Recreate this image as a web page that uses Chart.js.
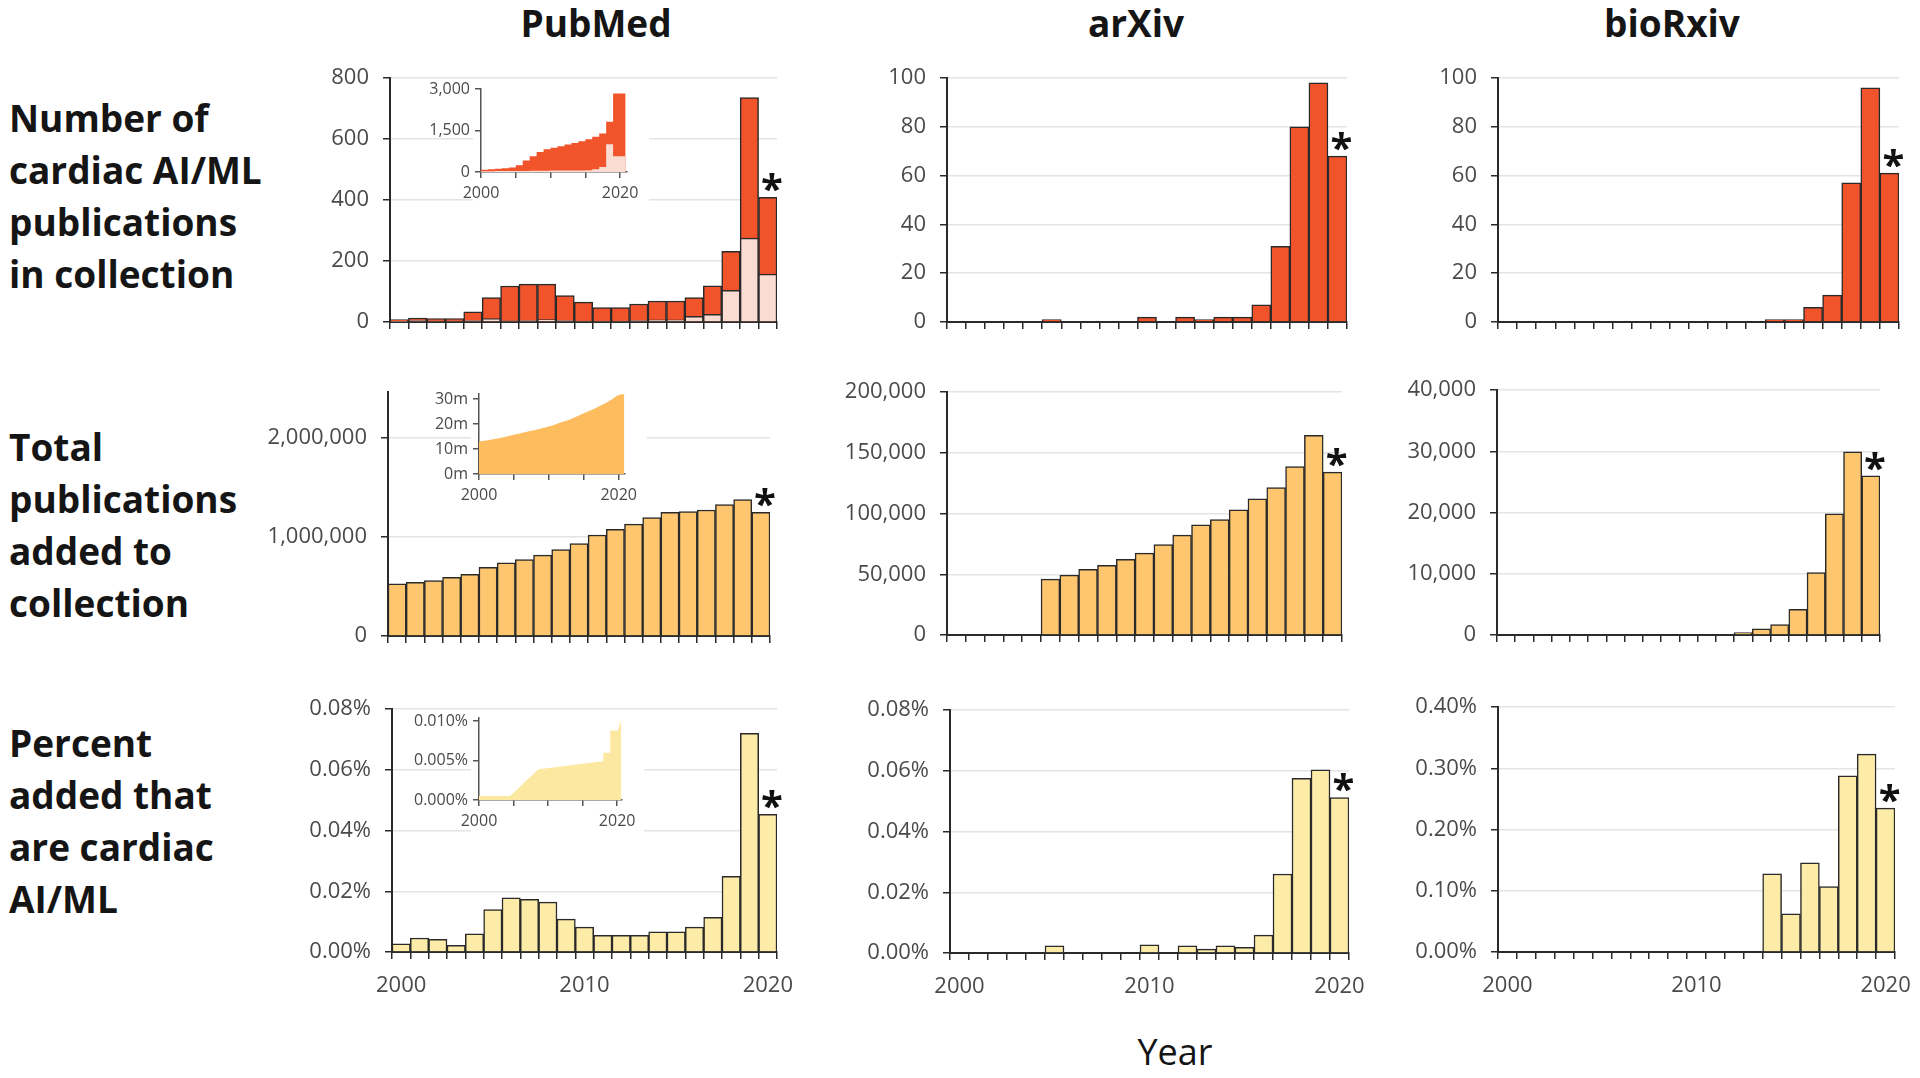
<!DOCTYPE html>
<html>
<head>
<meta charset="utf-8">
<script src="https://cdn.jsdelivr.net/npm/chart.js@4.4.0/dist/chart.umd.min.js"></script>
<style>
  html, body { margin: 0; padding: 0; background: #fff; }
  #wrap { position: relative; width: 1920px; height: 1078px; overflow: hidden;
          font-family: "Open Sans", sans-serif; color: #151515; }
  canvas { position: absolute; }
  canvas.inset { z-index: 2; }
  .col { position: absolute; font-weight: 700; font-size: 37px; transform: translate(-50%, -50%); white-space: nowrap; }
  .rowlab { position: absolute; left: 9px; font-weight: 700; font-size: 37px; line-height: 52px; white-space: nowrap; }
  #year { position: absolute; font-size: 36px; transform: translate(-50%, -50%); }
</style>
</head>
<body>
<div id="wrap">
  <div class="col" style="left:596px;top:22px">PubMed</div>
  <div class="col" style="left:1136px;top:22px">arXiv</div>
  <div class="col" style="left:1672px;top:22px">bioRxiv</div>

  <div class="rowlab" style="top:92px">Number of<br>cardiac AI/ML<br>publications<br>in collection</div>
  <div class="rowlab" style="top:421px">Total<br>publications<br>added to<br>collection</div>
  <div class="rowlab" style="top:717px">Percent<br>added that<br>are cardiac<br>AI/ML</div>

  <div id="year" style="left:1175px;top:1051px">Year</div>

  <canvas id="pm1"></canvas><canvas id="ax1"></canvas><canvas id="bx1"></canvas>
  <canvas id="pm2"></canvas><canvas id="ax2"></canvas><canvas id="bx2"></canvas>
  <canvas id="pm3"></canvas><canvas id="ax3"></canvas><canvas id="bx3"></canvas>
  <canvas id="in1" class="inset"></canvas>
  <canvas id="in2" class="inset"></canvas>
  <canvas id="in3" class="inset"></canvas>
</div>

<script>
"use strict";

// ---- data ----
const YEARS = ["2000","2001","2002","2003","2004","2005","2006","2007","2008","2009","2010",
               "2011","2012","2013","2014","2015","2016","2017","2018","2019","2020"];

// row 1 : cardiac AI/ML publications
const pubmedCardiac    = [8, 13, 11, 11, 33, 80, 118, 124, 124, 87, 65, 47, 47, 59, 69, 69, 80, 119, 232, 736, 409];
const pubmedCardiacSub = [2, 5, 3, 3, 5, 11, 4, 5, 8, 5, 3, 3, 3, 5, 7, 7, 19, 25, 104, 275, 157];
const arxivCardiac     = [null, null, null, null, null, 1, 0, 0, 0, 0, 2, 0, 2, 1, 2, 2, 7, 31, 80, 98, 68];
const biorxivCardiac   = [null, null, null, null, null, null, null, null, null, null, null, null, null, null,
                          1, 1, 6, 11, 57, 96, 61];

// row 2 : total publications added
const pubmedTotal  = [527000, 543000, 560000, 593000, 623000, 693000, 740000, 773000, 817000, 873000, 933000,
                      1020000, 1077000, 1130000, 1197000, 1250000, 1257000, 1273000, 1327000, 1377000, 1250000];
const arxivTotal   = [null, null, null, null, null, 46000, 49300, 54000, 57300, 62200, 67400, 74500, 82200,
                      90700, 95000, 103000, 112000, 121400, 138600, 164400, 134000];
const biorxivTotal = [null, null, null, null, null, null, null, null, null, null, null, null, null,
                      380, 1000, 1700, 4200, 10200, 19800, 29900, 26000];

// row 3 : percent cardiac AI/ML
const pubmedPct  = [0.0027, 0.0046, 0.0042, 0.0022, 0.0060, 0.0140, 0.0178, 0.0173, 0.0164, 0.0108, 0.0082,
                    0.0055, 0.0055, 0.0055, 0.0066, 0.0066, 0.0082, 0.0114, 0.0249, 0.0720, 0.0453];
const arxivPct   = [null, null, null, null, null, 0.0024, 0, 0, 0, 0, 0.0027, 0, 0.0024, 0.0013, 0.0024,
                    0.0019, 0.0059, 0.0260, 0.0575, 0.0603, 0.0512];
const biorxivPct = [null, null, null, null, null, null, null, null, null, null, null, null, null, null,
                    0.1275, 0.0624, 0.1455, 0.1070, 0.2877, 0.3230, 0.2350];

// insets (PubMed, whole collection)
const inset1X      = [2000, 2001, 2002, 2003, 2004, 2005, 2006, 2007, 2008, 2009, 2010, 2011, 2012, 2013,
                      2014, 2015, 2016, 2017, 2018, 2019, 2020, 2020.8];
const inset1Total  = [60, 80, 100, 120, 140, 160, 240, 420, 570, 725, 820, 880, 930, 990, 1050, 1110,
                      1185, 1270, 1390, 1815, 2840, 2840];
const inset1Sub    = [30, 30, 30, 35, 35, 40, 40, 40, 45, 45, 45, 50, 50, 50, 50, 55, 60, 100, 180, 1000, 570, 570];
const inset2X      = [2000, 2001, 2002, 2003, 2004, 2005, 2006, 2007, 2008, 2009, 2010, 2011, 2012, 2013,
                      2014, 2015, 2016, 2017, 2018, 2019, 2020, 2020.8];
const inset2Total  = [13.0, 13.4, 13.9, 14.4, 15.0, 15.7, 16.3, 17.0, 17.6, 18.3, 19.0, 19.9, 20.9, 21.8,
                      23.0, 24.3, 25.5, 26.8, 28.2, 29.8, 31.6, 31.9];
const inset3X      = [2000, 2004.5, 2008.6, 2018.0, 2018.0, 2019.0, 2019.0, 2020.1, 2020.6];
const inset3Pct    = [0.0005, 0.0005, 0.0039, 0.0049, 0.0060, 0.0060, 0.0088, 0.0088, 0.0102];

// tick values
const ticksPm1 = [0, 200, 400, 600, 800];
const ticksX1  = [0, 20, 40, 60, 80, 100];
const ticksPm2 = [0, 1000000, 2000000];
const ticksAx2 = [0, 50000, 100000, 150000, 200000];
const ticksBx2 = [0, 10000, 20000, 30000, 40000];
const ticksPct = [0, 0.02, 0.04, 0.06, 0.08];
const ticksBx3 = [0, 0.1, 0.2, 0.3, 0.4];
const insetXTicks = [2000, 2005, 2010, 2015, 2020];
const ticksIn1 = [0, 1500, 3000];
const ticksIn2 = [0, 10, 20, 30];
const ticksIn3 = [0, 0.005, 0.01];

// ---- styling ----
const RED    = "#F1532A";
const PINK   = "#FADCD3";
const ORANGE = "#FEC66F";
const ORANGE_IN = "#FDBD5F";
const YELLOW = "#FDEBA8";
const YELLOW_IN = "#FDE8A2";
const INK  = "#2a2a2a";
const GRID = "#e4e4e4";
const TXT  = "#4a4a4a";

Chart.defaults.font.family = "'Open Sans', sans-serif";

// star marking the partial 2020 year
const starPlugin = {
  id: "star",
  afterDatasetsDraw(chart, args, opts) {
    if (!opts || !opts.show) return;
    const meta = chart.getDatasetMeta(0);
    const bar = meta.data[meta.data.length - 1];
    const ctx = chart.ctx;
    ctx.save();
    ctx.font = "bold 40px 'Open Sans'";
    ctx.fillStyle = "#111";
    ctx.textAlign = "center";
    ctx.textBaseline = "alphabetic";
    ctx.fillText("*", bar.x + 4, bar.y - 17 + 23);
    ctx.restore();
  }
};

// white box behind the insets
const insetBg = {
  id: "insetBg",
  beforeDraw(chart, args, opts) {
    if (!opts || !opts.show) return;
    const a = chart.chartArea, ctx = chart.ctx;
    ctx.save();
    ctx.fillStyle = "#fff";
    ctx.fillRect(a.left - 8, a.top - 4, chart.width - (a.left - 8), chart.height - (a.top - 4));
    ctx.restore();
  }
};
Chart.register(starPlugin, insetBg);

function place(id, area, yW, xH, padT, padR) {
  const cv = document.getElementById(id);
  const left = area[0] - yW, top = area[1] - padT;
  const w = area[2] + padR - left, h = area[3] + xH - top;
  cv.width = w; cv.height = h;
  cv.style.left = left + "px"; cv.style.top = top + "px";
  cv.style.width = w + "px"; cv.style.height = h + "px";
  return cv;
}

function barPanel(id, area, datasets, yMax, yTicks, fmt, showYears) {
  const YW = 130, XH = 50, PT = 20, PR = 40;
  const cv = place(id, area, YW, XH, PT, PR);
  return new Chart(cv, {
    type: "bar",
    data: { labels: YEARS, datasets },
    options: {
      responsive: false, animation: false, devicePixelRatio: 1,
      layout: { padding: { top: PT, right: PR, left: 0, bottom: 0 } },
      plugins: { legend: { display: false }, tooltip: { enabled: false }, star: { show: true } },
      datasets: { bar: { barPercentage: 1, categoryPercentage: 1, borderWidth: 1.5,
                         borderColor: INK, grouped: false } },
      scales: {
        x: {
          grid: { display: true, drawOnChartArea: false, offset: true, tickLength: 7,
                  tickColor: INK, lineWidth: 1.5 },
          border: { display: true, color: INK, width: 2 },
          ticks: {
            display: showYears, autoSkip: false, minRotation: 0, maxRotation: 0, padding: 14,
            color: TXT, font: { size: 22 },
            callback(v) {
              const l = this.getLabelForValue(v);
              return (l === "2000" || l === "2010" || l === "2020") ? l : "";
            }
          },
          afterFit(s) { s.height = XH; s.paddingLeft = 0; s.paddingRight = 0; }
        },
        y: {
          min: 0, max: yMax,
          afterBuildTicks(s) { s.ticks = yTicks.map(v => ({ value: v })); },
          grid: { color: GRID, lineWidth: 1.5, tickLength: 7, tickColor: INK },
          border: { display: true, color: INK, width: 2 },
          ticks: { padding: 14, color: TXT, font: { size: 22 }, callback: fmt },
          afterFit(s) { s.width = YW; s.paddingTop = 0; s.paddingBottom = 0; }
        }
      }
    }
  });
}

function insetPanel(id, area, yW, datasets, xMax, yMax, yTicks, fmt) {
  const XH = 36, PT = 10, PR = 22;
  const cv = place(id, area, yW, XH, PT, PR);
  return new Chart(cv, {
    type: "line",
    data: { datasets },
    options: {
      responsive: false, animation: false, devicePixelRatio: 1,
      layout: { padding: { top: PT, right: PR, left: 0, bottom: 0 } },
      plugins: { legend: { display: false }, tooltip: { enabled: false }, insetBg: { show: true } },
      elements: { point: { radius: 0 }, line: { borderWidth: 0 } },
      scales: {
        x: {
          type: "linear", min: 2000, max: xMax,
          afterBuildTicks(s) { s.ticks = insetXTicks.map(v => ({ value: v })); },
          grid: { drawOnChartArea: false, tickLength: 6, tickColor: "#555", lineWidth: 1.5 },
          border: { display: true, color: "#555", width: 1.5 },
          ticks: { padding: 6, color: TXT, font: { size: 16 }, autoSkip: false,
                   minRotation: 0, maxRotation: 0,
                   callback: v => (v === 2000 || v === 2020) ? String(v) : "" },
          afterFit(s) { s.height = XH; s.paddingLeft = 0; s.paddingRight = 0; }
        },
        y: {
          min: 0, max: yMax,
          afterBuildTicks(s) { s.ticks = yTicks.map(v => ({ value: v })); },
          grid: { drawOnChartArea: false, tickLength: 6, tickColor: "#555", lineWidth: 1.5 },
          border: { display: true, color: "#555", width: 1.5 },
          ticks: { padding: 5, color: TXT, font: { size: 16 }, callback: fmt },
          afterFit(s) { s.width = yW; s.paddingTop = 0; s.paddingBottom = 0; }
        }
      }
    }
  });
}

const pts = (xs, ys) => xs.map((x, i) => ({ x, y: ys[i] }));
const fmtInt   = v => String(v);
const fmtComma = v => v.toLocaleString("en-US");
const fmtPct2  = v => v.toFixed(2) + "%";

// ---- row 1 ----
barPanel("pm1", [390, 78, 777, 322], [
  { data: pubmedCardiac, backgroundColor: RED, order: 1 },
  { data: pubmedCardiacSub, backgroundColor: PINK, order: 0 }
], 800, ticksPm1, fmtInt, false);
barPanel("ax1", [947, 78, 1347, 322], [{ data: arxivCardiac, backgroundColor: RED }],
  100, ticksX1, fmtInt, false);
barPanel("bx1", [1498, 78, 1899, 322], [{ data: biorxivCardiac, backgroundColor: RED }],
  100, ticksX1, fmtInt, false);

// ---- row 2 ----
barPanel("pm2", [388, 392, 770, 636], [{ data: pubmedTotal, backgroundColor: ORANGE }],
  2465000, ticksPm2, fmtComma, false);
barPanel("ax2", [947, 392, 1342, 635], [{ data: arxivTotal, backgroundColor: ORANGE }],
  200000, ticksAx2, fmtComma, false);
barPanel("bx2", [1497, 390, 1880, 635], [{ data: biorxivTotal, backgroundColor: ORANGE }],
  40000, ticksBx2, fmtComma, false);

// ---- row 3 ----
barPanel("pm3", [392, 709, 777, 952], [{ data: pubmedPct, backgroundColor: YELLOW }],
  0.08, ticksPct, fmtPct2, true);
barPanel("ax3", [950, 710, 1349, 953], [{ data: arxivPct, backgroundColor: YELLOW }],
  0.08, ticksPct, fmtPct2, true);
barPanel("bx3", [1498, 707, 1895, 952], [{ data: biorxivPct, backgroundColor: YELLOW }],
  0.4, ticksBx3, fmtPct2, true);

// ---- insets ----
insetPanel("in1", [481, 89, 627, 172], 60, [
  { data: pts(inset1X, inset1Total), fill: "origin", backgroundColor: RED, borderColor: RED,
    stepped: "after", order: 1 },
  { data: pts(inset1X, inset1Sub), fill: "origin", backgroundColor: PINK, borderColor: PINK,
    stepped: "after", order: 0 }
], 2021, 3000, ticksIn1, fmtComma);

insetPanel("in2", [479, 394, 625, 474], 52, [
  { data: pts(inset2X, inset2Total), fill: "origin", backgroundColor: ORANGE_IN,
    borderColor: ORANGE_IN, tension: 0.4 }
], 2020.9, 32, ticksIn2, v => v + "m");

insetPanel("in3", [479, 718, 622, 800], 80, [
  { data: pts(inset3X, inset3Pct), fill: "origin", backgroundColor: YELLOW_IN,
    borderColor: YELLOW_IN, tension: 0 }
], 2020.7, 0.0104, ticksIn3, v => v.toFixed(3) + "%");
</script>
</body>
</html>
